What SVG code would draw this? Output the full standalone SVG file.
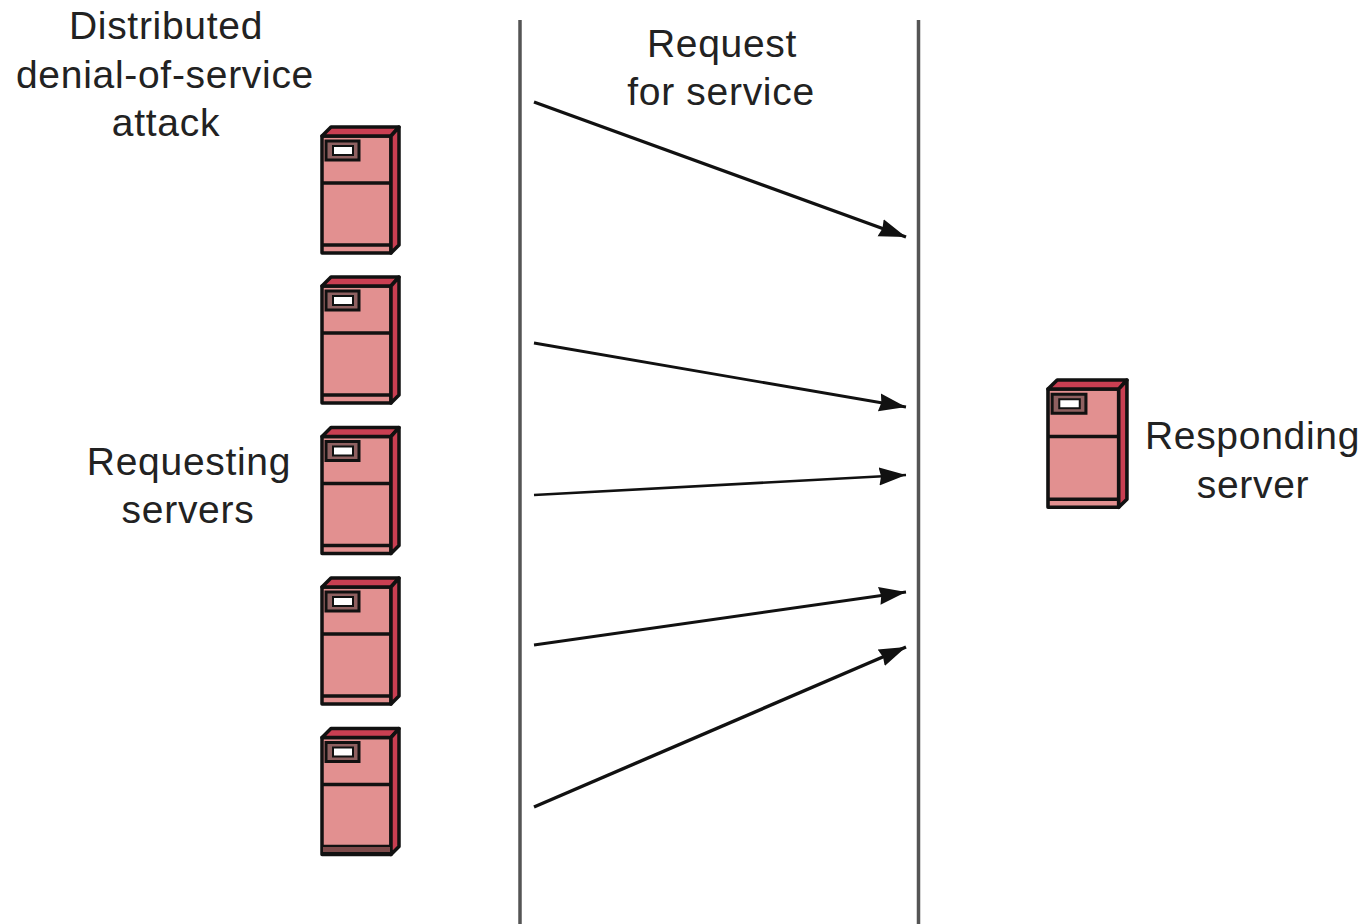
<svg xmlns="http://www.w3.org/2000/svg" width="1368" height="924" viewBox="0 0 1368 924">
<style>
text{font-family:"Liberation Sans",Arial,sans-serif;font-size:39px;letter-spacing:.7px;fill:#222;text-anchor:middle}
.o{stroke:#111;stroke-width:3.5;stroke-linejoin:round}
.f{fill:#e29090}
.d{fill:#c93f52}
.l{fill:none;stroke:#111;stroke-width:3.5}
.v{stroke:#555;stroke-width:3.500;fill:none}
.c{fill:none;stroke:#111}
</style>
<defs>
<marker id="a" markerUnits="userSpaceOnUse" markerWidth="30" markerHeight="20" refX="27" refY="9" orient="auto" viewBox="0 0 30 18"><path d="M0 0L27 9L0 18L2 9Z" fill="#111"/></marker>
<g id="srv">
<path class="o f" d="M322 136H391V253H322Z"/>
<path class="o d" d="M322 136L331 127H399L391 136Z"/>
<path class="o d" d="M391 136L399 127V245L391 253Z"/>
<path class="l" d="M322 183H391M322 245H391"/>
<path d="M326 141H359V160H326Z" fill="#8f6060" stroke="#111" stroke-width="3"/>
<path d="M333 146H353V155H333Z" fill="#fff" stroke="#111" stroke-width="2"/>
</g>
</defs>
<rect width="1368" height="924" fill="#fff"/>
<g id="dividers">
<path class="v" d="M520 20V924M918.500 20V924"/>
</g>
<g id="connectors">
<path class="c" stroke-width="3.4" marker-end="url(#a)" d="M534 102L906 237"/>
<path class="c" stroke-width="2.8" marker-end="url(#a)" d="M534 343L906 407"/>
<path class="c" stroke-width="2.6" marker-end="url(#a)" d="M534 495L906 475"/>
<path class="c" stroke-width="2.8" marker-end="url(#a)" d="M534 645L906 592"/>
<path class="c" stroke-width="3.4" marker-end="url(#a)" d="M534 807L906 647"/>
</g>
<g id="server1"><use href="#srv"/></g>
<g id="server2"><use href="#srv" y="150"/></g>
<g id="server3"><use href="#srv" y="300.500"/></g>
<g id="server4"><use href="#srv" y="451"/></g>
<g id="server5"><use href="#srv" y="601.500"/><path d="M322 846H391V853H322Z" fill="#7d4a4a" stroke="#111" stroke-width="2"/></g>
<g id="responding"><use href="#srv" transform="translate(1048 380) scale(1.025 1.01) translate(-322 -127)"/></g>
<g id="labels">
<text x="166" y="39">Distributed</text>
<text x="165" y="88">denial-of-service</text>
<text x="166" y="136">attack</text>
<text x="722" y="57">Request</text>
<text x="721" y="105">for service</text>
<text x="189" y="475">Requesting</text>
<text x="188" y="523">servers</text>
<text x="1252.500" y="449">Responding</text>
<text x="1253" y="498">server</text>
</g>
</svg>
